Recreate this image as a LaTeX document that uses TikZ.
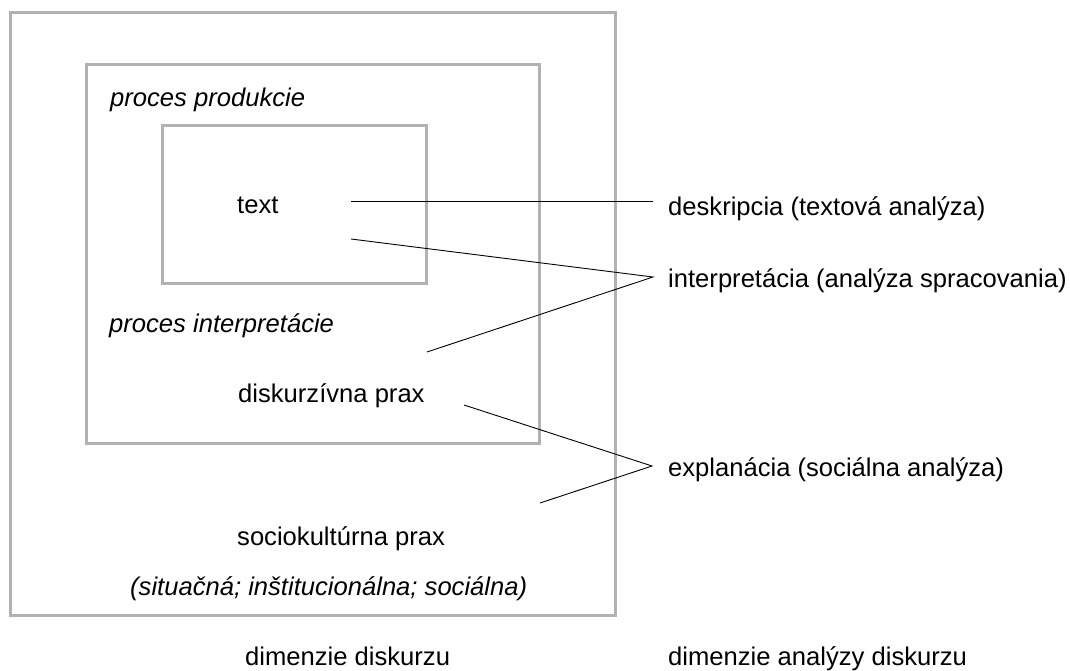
\documentclass[tikz,border=0pt]{standalone}
\usepackage{fontspec}
\setmainfont{Liberation Sans}
\begin{document}
\begin{tikzpicture}[x=1pt,y=-1pt,
  box/.style={draw=black!30, line width=3pt},
  conn/.style={draw=black, line width=0.9pt},
  lbl/.style={inner sep=0pt, anchor=base west, font=\fontsize{25.6}{30}\selectfont},
  ilbl/.style={lbl, font=\fontsize{25.6}{30}\selectfont\itshape}]
\useasboundingbox (0,0) rectangle (1070,671);
% boxes
\draw[box] (10,13) rectangle (615,615);
\draw[box] (86,65) rectangle (539,443);
\draw[box] (162,126) rectangle (426,283);
% labels in boxes
\node[ilbl] (prod) at (110,107) {proces produkcie};
\node[lbl] (text) at (237,213) {text};
\node[ilbl] (interp) at (109,332) {proces interpretácie};
\node[lbl] (disk) at (238,402) {diskurzívna prax};
\node[lbl] (soc) at (237,545) {sociokultúrna prax};
\node[ilbl] (sit) at (130,595) {(situačná; inštitucionálna; sociálna)};
\node[lbl] (dimd) at (245,665) {dimenzie diskurzu};
% right labels
\node[lbl] (desk) at (668,215) {deskripcia (textová analýza)};
\node[lbl] (intp) at (668,287) {interpretácia (analýza spracovania)};
\node[lbl] (expl) at (668,476) {explanácia (sociálna analýza)};
\node[lbl] (dima) at (668,665) {dimenzie analýzy diskurzu};
% connector end points
\coordinate (a1) at (351,201);
\coordinate (b1) at (653,201);
\coordinate (a2) at (351,239);
\coordinate (b2) at (653,277);
\coordinate (a3) at (427,352);
\coordinate (a4) at (464,405);
\coordinate (b4) at (652,466);
\coordinate (a5) at (540,503);
\draw[conn] (a1) -- (b1);
\draw[conn] (a2) -- (b2) -- (a3);
\draw[conn] (a4) -- (b4) -- (a5);
\end{tikzpicture}
\end{document}
